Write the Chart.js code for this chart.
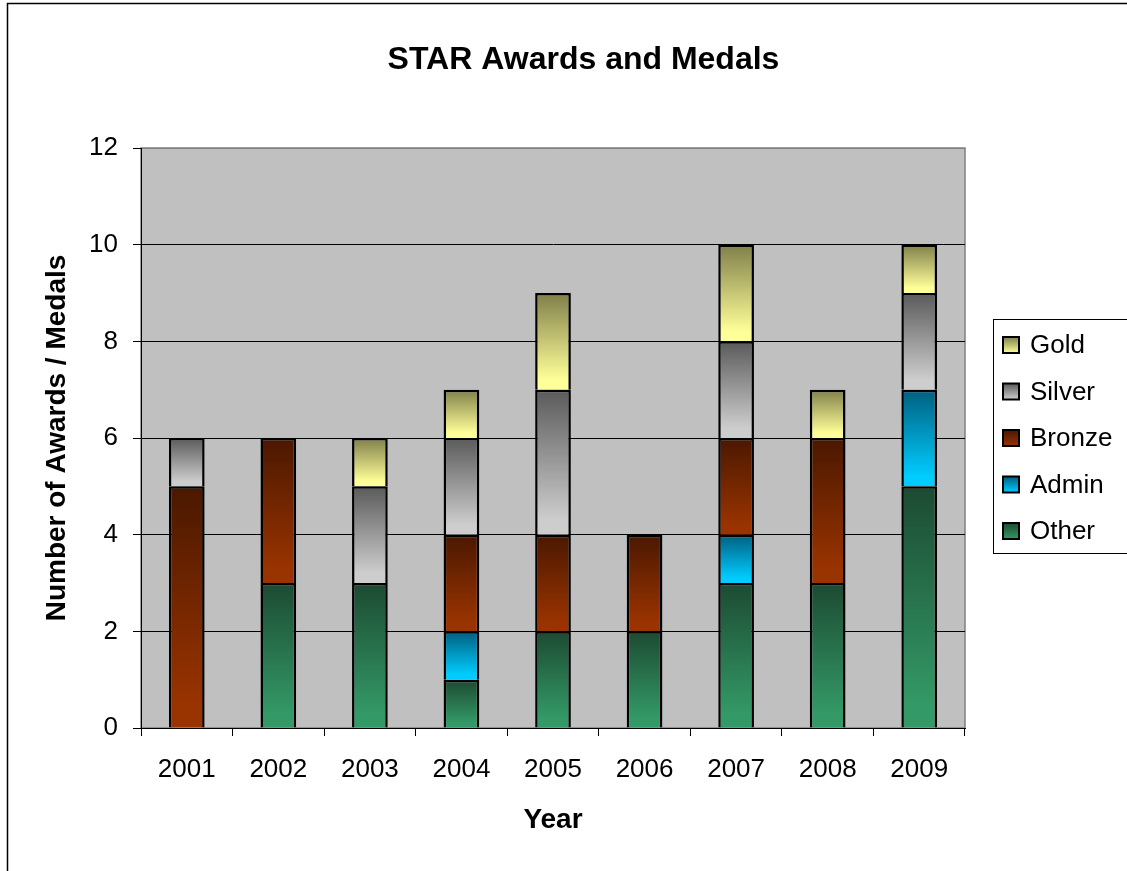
<!DOCTYPE html>
<html lang="en">
<head>
    <meta charset="UTF-8">
    <title>STAR Awards and Medals</title>
    <script src="https://cdn.jsdelivr.net/npm/chart.js"></script>
    <style>
        body {
            margin: 0;
            background-color: white;
        }
        .chart-container {
            width: 1127px;
            height: 871px;
        }
    </style>
</head>
<body>
    <div class="chart-container">
        <canvas id="awardsChart" width="1127" height="871"></canvas>
    </div>

    <script>
        const years = ['2001', '2002', '2003', '2004', '2005', '2006', '2007', '2008', '2009'];
        const other = [0, 3, 3, 1, 2, 2, 3, 3, 5];
        const admin = [0, 0, 0, 1, 0, 0, 1, 0, 2];
        const bronze = [5, 3, 0, 2, 2, 2, 2, 3, 0];
        const silver = [1, 0, 2, 2, 3, 0, 2, 0, 2];
        const gold = [0, 0, 1, 1, 2, 0, 2, 1, 1];
        const yTicks = [0, 2, 4, 6, 8, 10, 12];

        // stacking order, bottom to top
        const seriesNames = ['Other', 'Admin', 'Bronze', 'Silver', 'Gold'];
        const seriesData = [other, admin, bronze, silver, gold];
        const topColors = ['#1c4a32', '#005f7f', '#4a1800', '#5a5a5a', '#7f7f4a'];
        const bottomColors = ['#339966', '#00ccff', '#993300', '#cdcdcd', '#ffff99'];

        const FONT = 'Arial, "Liberation Sans", sans-serif';

        function barFill(i) {
            return (c) => {
                const chart = c.chart;
                const y = chart.scales.y;
                if (!chart.chartArea || c.type !== 'data' || !y) return bottomColors[i];
                let base = 0;
                for (let k = 0; k < i; k++) base += seriesData[k][c.dataIndex];
                const v = seriesData[i][c.dataIndex];
                const top = y.getPixelForValue(base + v);
                const bot = y.getPixelForValue(base);
                if (!isFinite(top) || !isFinite(bot) || top === bot) return bottomColors[i];
                const g = chart.ctx.createLinearGradient(0, top, 0, bot);
                g.addColorStop(0, topColors[i]);
                g.addColorStop(0.9, bottomColors[i]);
                g.addColorStop(1, bottomColors[i]);
                return g;
            };
        }

        const datasets = seriesNames.map((name, i) => ({
            label: name,
            data: seriesData[i],
            backgroundColor: barFill(i),
            borderColor: '#000',
            borderWidth: 2.5,
            barPercentage: 0.39,
            categoryPercentage: 1
        }));

        const framePlugin = {
            id: 'frame',
            beforeDraw(chart) {
                const { ctx, chartArea: a } = chart;
                ctx.save();
                ctx.fillStyle = '#c0c0c0';
                ctx.fillRect(a.left, a.top, a.right - a.left, a.bottom - a.top);
                ctx.strokeStyle = '#808080';
                ctx.lineWidth = 1.5;
                ctx.strokeRect(a.left, a.top, a.right - a.left, a.bottom - a.top);
                // outer chart border
                ctx.strokeStyle = '#000';
                ctx.lineWidth = 1.5;
                ctx.strokeRect(7.5, 3.5, 1140, 880);
                ctx.restore();
            },
            afterDraw(chart) {
                const { ctx, chartArea: a } = chart;
                const boxX = a.right + 28;
                const boxY = 319;
                ctx.save();
                ctx.strokeStyle = '#000';
                ctx.lineWidth = 1;
                ctx.strokeRect(boxX + 0.5, boxY + 0.5, 140, 234);
                ctx.font = '26px ' + FONT;
                ctx.textBaseline = 'middle';
                ctx.fillStyle = '#000';
                for (let n = 0; n < seriesNames.length; n++) {
                    const i = seriesNames.length - 1 - n;
                    const cy = 345 + n * 46.5;
                    const g = ctx.createLinearGradient(0, cy - 8, 0, cy + 8);
                    g.addColorStop(0, topColors[i]);
                    g.addColorStop(1, bottomColors[i]);
                    ctx.fillStyle = g;
                    ctx.fillRect(boxX + 10, cy - 8, 16, 16);
                    ctx.lineWidth = 2;
                    ctx.strokeRect(boxX + 10, cy - 8, 16, 16);
                    ctx.fillStyle = '#000';
                    ctx.fillText(seriesNames[i], boxX + 37, cy + 1);
                }
                ctx.restore();
            }
        };

        new Chart(document.getElementById('awardsChart'), {
            type: 'bar',
            data: { labels: years, datasets: datasets },
            options: {
                responsive: false,
                animation: false,
                layout: { padding: { left: 40, right: 0, top: 0, bottom: 0 } },
                plugins: {
                    legend: { display: false },
                    tooltip: { enabled: false },
                    title: {
                        display: true,
                        text: 'STAR Awards and Medals',
                        color: '#000',
                        font: { family: FONT, size: 32, weight: 'bold' },
                        padding: { top: 41, bottom: 68.6 }
                    }
                },
                scales: {
                    x: {
                        stacked: true,
                        afterFit: (s) => { s.height = 143; },
                        grid: {
                            drawOnChartArea: false,
                            drawTicks: true,
                            tickLength: 8,
                            color: '#000'
                        },
                        border: { display: true, color: '#000', width: 1 },
                        ticks: {
                            color: '#000',
                            padding: 18,
                            maxRotation: 0,
                            font: { family: FONT, size: 26 }
                        },
                        title: {
                            display: true,
                            text: 'Year',
                            color: '#000',
                            font: { family: FONT, size: 28, weight: 'bold' },
                            padding: { top: 0, bottom: 34 }
                        }
                    },
                    y: {
                        stacked: true,
                        min: 0,
                        max: 12,
                        afterFit: (s) => { s.width = 101; },
                        afterBuildTicks: (s) => { s.ticks = yTicks.map(v => ({ value: v })); },
                        grid: {
                            color: (c) => (c.tick && c.tick.value === 12 ? '#808080' : '#000'),
                            tickColor: '#000',
                            tickLength: 8,
                            lineWidth: 1
                        },
                        border: { display: true, color: '#000', width: 1 },
                        ticks: {
                            color: '#000',
                            padding: 15,
                            font: { family: FONT, size: 26 }
                        },
                        title: {
                            display: true,
                            text: 'Number of Awards / Medals',
                            color: '#000',
                            font: { family: FONT, size: 28, weight: 'bold' },
                            padding: { top: 0, bottom: 0 }
                        }
                    },
                    yRight: {
                        position: 'right',
                        display: true,
                        afterFit: (s) => { s.width = 162; },
                        grid: { display: false },
                        border: { display: false },
                        ticks: { display: false }
                    }
                }
            },
            plugins: [framePlugin]
        });
    </script>
</body>
</html>
